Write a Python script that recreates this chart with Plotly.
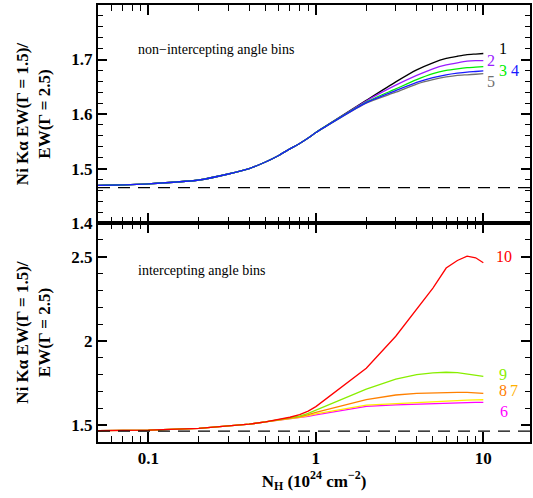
import plotly.graph_objects as go
import math

NH = [0.05, 0.1, 0.2, 0.3, 0.4, 0.5, 0.6, 0.7, 0.8, 0.9, 1, 2, 3, 4, 5, 6, 7, 8, 9, 10]

common_top = [1.469, 1.472, 1.479, 1.490, 1.500, 1.512, 1.524, 1.536, 1.546, 1.556, 1.566]
bin1 = common_top + [1.625, 1.659, 1.681, 1.694, 1.702, 1.706, 1.709, 1.710, 1.711]
bin2 = common_top + [1.624, 1.653, 1.671, 1.683, 1.690, 1.694, 1.697, 1.698, 1.698]
bin3 = common_top + [1.622, 1.646, 1.663, 1.674, 1.680, 1.683, 1.685, 1.686, 1.687]
bin4 = common_top + [1.621, 1.643, 1.658, 1.667, 1.672, 1.675, 1.677, 1.678, 1.679]
bin5 = common_top + [1.620, 1.640, 1.655, 1.663, 1.668, 1.671, 1.672, 1.673, 1.674]

common_bot = [1.467, 1.470, 1.481, 1.494, 1.506, 1.519]
bin10 = common_bot + [1.532, 1.547, 1.563, 1.583, 1.610, 1.838, 2.028, 2.190, 2.314, 2.433, 2.478, 2.504, 2.494, 2.464]
bin9 = common_bot + [1.531, 1.542, 1.554, 1.570, 1.589, 1.714, 1.774, 1.800, 1.810, 1.814, 1.812, 1.805, 1.795, 1.790]
bin8 = common_bot + [1.530, 1.540, 1.550, 1.562, 1.576, 1.651, 1.679, 1.689, 1.693, 1.695, 1.695, 1.695, 1.693, 1.689]
bin7 = common_bot + [1.529, 1.538, 1.546, 1.556, 1.567, 1.619, 1.629, 1.636, 1.641, 1.645, 1.647, 1.649, 1.650, 1.651]
bin6 = common_bot + [1.529, 1.537, 1.544, 1.552, 1.561, 1.611, 1.621, 1.626, 1.629, 1.631, 1.633, 1.634, 1.635, 1.635]

REF_LEVEL = 1.465

X_MAJOR = [0.1, 1, 10]
X_MAJOR_TEXT = ["0.1", "1", "10"]
X_MINOR = [0.06, 0.07, 0.08, 0.09, 0.2, 0.3, 0.4, 0.5, 0.6, 0.7, 0.8, 0.9,
           2, 3, 4, 5, 6, 7, 8, 9]
Y_TOP_TICKS = [1.4, 1.5, 1.6, 1.7]
Y_TOP_MINOR = [1.42, 1.44, 1.46, 1.48, 1.52, 1.54, 1.56, 1.58, 1.62, 1.64, 1.66, 1.68, 1.72, 1.74, 1.76, 1.78]
Y_BOT_TICKS = [1.5, 2, 2.5]
Y_BOT_MINOR = [1.6, 1.7, 1.8, 1.9, 2.1, 2.2, 2.3, 2.4, 2.6]

top_series = [("1", bin1, "black"), ("2", bin2, "#9a1cff"), ("5", bin5, "#707070"),
              ("3", bin3, "#00ee00"), ("4", bin4, "#1a1aff")]
bot_series = [("6", bin6, "#ff00ff"), ("7", bin7, "#ffee00"), ("8", bin8, "#ff8000"),
              ("9", bin9, "#88ee00"), ("10", bin10, "#ff0000")]

FONT = "Liberation Serif"
fig = go.Figure()
for name, ys, col in top_series:
    fig.add_trace(go.Scatter(x=NH, y=ys, mode="lines", line=dict(color=col, width=1.3, shape="spline", smoothing=0.6),
                             xaxis="x2", yaxis="y2", showlegend=False))
for name, ys, col in bot_series:
    fig.add_trace(go.Scatter(x=NH, y=ys, mode="lines", line=dict(color=col, width=1.3),
                             xaxis="x", yaxis="y", showlegend=False))

xr = [math.log10(0.05), math.log10(19)]
tfont = dict(family=FONT, size=17, color="black", weight="bold")
NOGRID = "rgba(0,0,0,0)"
axcommon = dict(type="log", range=xr, ticks="inside", ticklen=10, tickwidth=1.5, tickcolor="black",
                showline=True, linecolor="black", linewidth=2, mirror="allticks", gridcolor=NOGRID,
                tickvals=X_MAJOR, ticktext=X_MAJOR_TEXT,
                minor=dict(ticks="inside", ticklen=6, tickwidth=1.2, tickcolor="black", gridcolor=NOGRID,
                           tickvals=X_MINOR),
                tickfont=tfont)
ycommon = dict(ticks="inside", ticklen=9, tickwidth=1.5, tickcolor="black",
               showline=True, linecolor="black", linewidth=2, mirror="allticks", gridcolor=NOGRID,
               zerolinecolor=NOGRID, tickfont=tfont)
ytitle = "<b>Ni Kα EW(Γ = 1.5)/<br>EW(Γ = 2.5)</b>"

fig.update_layout(
    width=533, height=498, margin=dict(l=98, r=1, t=5, b=56),
    paper_bgcolor="white", plot_bgcolor="white",
    xaxis=dict(**axcommon, anchor="y",
               title=dict(text="<b>N<sub>H</sub> (10<sup>24</sup> cm<sup>−2</sup>)</b>",
                          font=dict(family=FONT, size=17, color="black"), standoff=6)),
    xaxis2=dict(**axcommon, anchor="y2", showticklabels=False),
    yaxis=dict(**ycommon, domain=[0, 0.501], range=[1.4, 2.7], tickvals=Y_BOT_TICKS,
               ticktext=["%g" % v for v in Y_BOT_TICKS],
               minor=dict(ticks="inside", ticklen=5, tickwidth=1.2, tickcolor="black", gridcolor=NOGRID,
                          tickvals=Y_BOT_MINOR),
               title=dict(text=ytitle, font=dict(family=FONT, size=17, color="black"), standoff=16)),
    yaxis2=dict(**ycommon, domain=[0.501, 1], range=[1.4, 1.8], tickvals=Y_TOP_TICKS,
                ticktext=["%g" % v for v in Y_TOP_TICKS],
                minor=dict(ticks="inside", ticklen=5, tickwidth=1.2, tickcolor="black", gridcolor=NOGRID,
                           tickvals=Y_TOP_MINOR),
                title=dict(text=ytitle, font=dict(family=FONT, size=17, color="black"), standoff=16)),
)

for yr in ["y", "y2"]:
    fig.add_shape(type="line", xref="paper", x0=0, x1=1, yref=yr, y0=REF_LEVEL, y1=REF_LEVEL,
                  line=dict(color="black", width=1.2, dash="12px,8px"))

def px_to_paper(px, py):
    return (px - 98) / 434.0, 1 - (py - 5) / 437.0

labels = [("1", "black", 505, 48), ("2", "#9a1cff", 493, 60), ("3", "#00ee00", 505, 71),
          ("4", "#1a1aff", 517, 71), ("5", "#707070", 493, 81),
          ("10", "#ff0000", 506, 256), ("9", "#88ee00", 505, 374), ("8", "#ff8000", 505, 390),
          ("7", "#ffb000", 516, 390), ("6", "#ff00ff", 506, 411)]
for t, c, px, py in labels:
    x, y = px_to_paper(px, py)
    fig.add_annotation(text=t, x=x, y=y, xref="paper", yref="paper", showarrow=False,
                       font=dict(family=FONT, size=16, color=c), xanchor="center", yanchor="middle")

for t, px, py in [("non−intercepting angle bins", 136, 49), ("intercepting angle bins", 136, 270)]:
    x, y = px_to_paper(px, py)
    fig.add_annotation(text=t, x=x, y=y, xref="paper", yref="paper", showarrow=False,
                       font=dict(family=FONT, size=14, color="black"), xanchor="left", yanchor="middle")

fig.write_html("out.html")
